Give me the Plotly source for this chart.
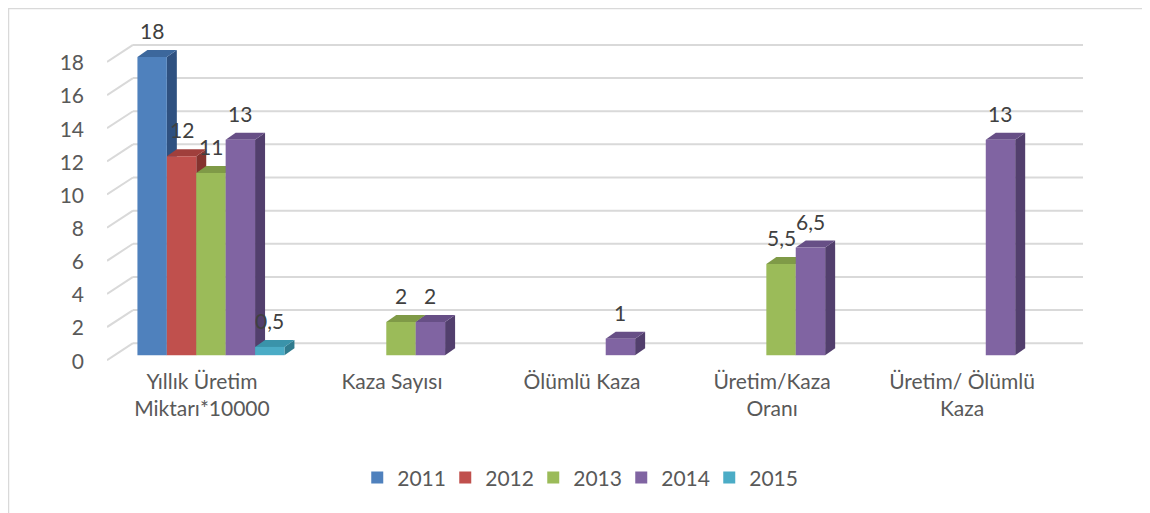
import plotly.graph_objects as go

# ---------------- data ----------------
categories = ["Yıllık Üretim<br>Miktarı*10000", "Kaza Sayısı", "Ölümlü Kaza",
              "Üretim/Kaza<br>Oranı", "Üretim/ Ölümlü<br>Kaza"]
years = ["2011", "2012", "2013", "2014", "2015"]
v2011 = [18, None, None, None, None]
v2012 = [12, None, None, None, None]
v2013 = [11, 2, None, 5.5, None]
v2014 = [13, 2, 1, 6.5, 13]
v2015 = [0.5, None, None, None, None]
series = [v2011, v2012, v2013, v2014, v2015]
y_ticks = [0, 2, 4, 6, 8, 10, 12, 14, 16, 18]

# ---------------- style ----------------
front_colors = ["#4F81BD", "#C0504D", "#9BBB59", "#8064A2", "#4BACC6"]
top_colors = ["#3C679C", "#A03F3C", "#7F9A47", "#674F86", "#3A93AA"]
side_colors = ["#2F5180", "#85332F", "#6A823A", "#523F6D", "#307B8E"]
FONT = "Lato"
AX_COL = "#595959"
LBL_COL = "#404040"
GRID_COL = "#D9D9D9"

W, H = 1150, 513
OFF = 8                      # page body margin
PL, PR = 107 - OFF, 1083 - OFF
PT, PB = 20 - OFF, 360.8 - OFF
XR = [-0.547, 4.589]
YR = [-0.35, 20.23]
px_per_x = (PR - PL) / (XR[1] - XR[0])
px_per_y = (PB - PT) / (YR[1] - YR[0])

bargap = 0.2263
nser = len(years)
bw = (1 - bargap) / nser
ddx = 10 / px_per_x   # bar depth (x)
ddy = 7 / px_per_y    # bar depth (y)
wall_dx = 26 / px_per_x
wall_dy_back = 12 / px_per_y
wall_dy_front = 5 / px_per_y

fig = go.Figure()

# 3D faces (drawn on base axes, below the bar front faces)
for j, vals in enumerate(series):
    off = (j - (nser - 1) / 2) * bw
    for i, v in enumerate(vals):
        if v is None:
            continue
        xl = i + off - bw / 2
        xr = i + off + bw / 2
        fig.add_trace(go.Scatter(
            x=[xr, xr + ddx, xr + ddx, xr, xr],
            y=[0, ddy, v + ddy, v, 0],
            fill="toself", fillcolor=side_colors[j], mode="lines",
            line=dict(width=0, color=side_colors[j]),
            showlegend=False, hoverinfo="skip", xaxis="x", yaxis="y"))
        fig.add_trace(go.Scatter(
            x=[xl, xl + ddx, xr + ddx, xr, xl],
            y=[v, v + ddy, v + ddy, v, v],
            fill="toself", fillcolor=top_colors[j], mode="lines",
            line=dict(width=0, color=top_colors[j]),
            showlegend=False, hoverinfo="skip", xaxis="x", yaxis="y"))

# front faces as real bars on an overlaying axis pair (drawn on top)
for j, vals in enumerate(series):
    fig.add_trace(go.Bar(
        x=list(range(len(categories))), y=vals, name=years[j],
        marker=dict(color=front_colors[j], line=dict(width=0)),
        xaxis="x2", yaxis="y2"))

# data labels
annotations = []
for j, vals in enumerate(series):
    off = (j - (nser - 1) / 2) * bw
    for i, v in enumerate(vals):
        if v is None:
            continue
        txt = (str(int(v)) if float(v).is_integer() else str(v).replace(".", ","))
        annotations.append(dict(
            x=i + off, y=v, xref="x", yref="y", text=txt,
            showarrow=False, yanchor="bottom", yshift=12,
            font=dict(family=FONT, size=21, color=LBL_COL)))

# walls / gridlines
shapes = []
for t in y_ticks:
    shapes.append(dict(type="line", xref="x", yref="y", layer="below",
                       x0=XR[0], y0=t - wall_dy_front,
                       x1=XR[0] + wall_dx, y1=t + wall_dy_back,
                       line=dict(color=GRID_COL, width=2)))
    shapes.append(dict(type="line", xref="x", yref="y", layer="below",
                       x0=XR[0] + wall_dx, y0=t + wall_dy_back,
                       x1=XR[1], y1=t + wall_dy_back,
                       line=dict(color=GRID_COL, width=2)))


def px2paper_x(p):
    return (p - PL) / (PR - PL)


def px2paper_y(p):
    return (PB - p) / (PB - PT)


shapes.append(dict(type="rect", xref="paper", yref="paper", layer="below",
                   x0=px2paper_x(0.5), x1=px2paper_x(1170),
                   y0=px2paper_y(530), y1=px2paper_y(0.5),
                   line=dict(color=GRID_COL, width=1.5), fillcolor="rgba(0,0,0,0)"))

fig.update_layout(
    width=W, height=H,
    margin=dict(l=PL, r=W - PR, t=PT, b=H - PB, pad=0, autoexpand=False),
    paper_bgcolor="white", plot_bgcolor="rgba(0,0,0,0)",
    barmode="group", bargap=bargap, bargroupgap=0,
    font=dict(family=FONT, size=21, color=AX_COL),
    xaxis=dict(range=XR, tickmode="array", tickvals=list(range(len(categories))),
               ticktext=categories, showgrid=False, zeroline=False, showline=False,
               ticks="", ticklabelshift=-9, ticklabelstandoff=6, automargin=False,
               tickfont=dict(family=FONT, size=21, color=AX_COL)),
    yaxis=dict(range=YR, tickmode="array", tickvals=y_ticks,
               ticktext=[str(t) for t in y_ticks], showgrid=False, zeroline=False,
               showline=False, ticks="", ticklabelshift=6, ticklabelstandoff=22,
               automargin=False,
               tickfont=dict(family=FONT, size=21, color=AX_COL)),
    xaxis2=dict(range=XR, overlaying="x", visible=False, automargin=False),
    yaxis2=dict(range=YR, overlaying="y", visible=False, automargin=False),
    legend=dict(orientation="h", xref="container", yref="container",
                x=0.495, xanchor="center", y=0.084, yanchor="middle",
                font=dict(family=FONT, size=21, color=AX_COL),
                entrywidth=43, itemwidth=30, traceorder="normal"),
    shapes=shapes, annotations=annotations,
)

fig.write_html("out.html")
